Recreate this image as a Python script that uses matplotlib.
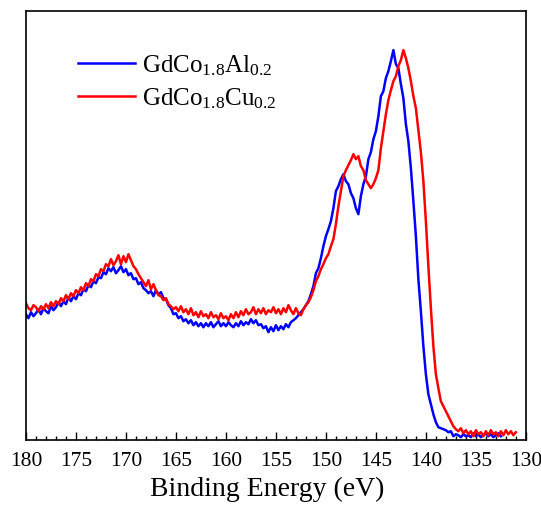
import matplotlib
matplotlib.use("Agg")
import matplotlib.pyplot as plt
from matplotlib.ticker import MultipleLocator
import numpy as np

plt.rcParams['font.family'] = ['Liberation Serif', 'DejaVu Serif']
plt.rcParams['mathtext.default'] = 'regular'

# intensity (arb. units), 0.25 eV step starting at 180 eV
# one row per eV: x.00, x-0.25, x-0.5, x-0.75
gdco_al = [
    122, 118, 124, 120,  123, 127, 122, 128,  125, 123, 130, 126,  # 180-177.25
    129, 134, 130, 135,  132, 139, 135, 140,  137, 143, 141, 147,  # 177-174.25
    145, 151, 149, 155,  153, 159, 158, 164,  162, 168, 165, 169,  # 174-171.25
    163, 166, 170, 164,  167, 161, 163, 157,  158, 152, 154, 148,  # 171-168.25
    146, 143, 145, 140,  146, 142, 144, 138,  137, 131, 128, 122,  # 168-165.25
    123, 118, 120, 115,  117, 113, 116, 111,  114, 110, 113, 109,  # 165-162.25
    113, 110, 114, 109,  112, 115, 110, 113,  110, 114, 111, 109,  # 162-159.25
    113, 110, 115, 111,  114, 112, 117, 113,  116, 111, 112, 108,  # 159-156.25
    110, 104, 109, 105,  111, 106, 110, 107,  112, 109, 114, 116,  # 156-153.25
    118, 121, 124, 127,  131, 135, 142, 150,  163, 168, 178, 190,  # 153-150.25
    200, 207, 215, 228,  245, 250, 257, 262,  255, 252, 243, 238,  # 150-147.25
    228, 222, 240, 252,  260, 277, 284, 297,  305, 320, 340, 345,  # 147-144.25
    358, 365, 375, 386,  372, 368, 352, 338,  312, 295, 268, 235,  # 144-141.25
    200, 157, 125, 90,   62, 42, 32, 22,      14, 9, 8, 7,          # 141-138.25
    6, 4, 5, 0,          2, 1, -1, 2,         0, 1, -1, 3,          # 138-135.25
    0, 2, -1, 1,         3, 0, 2, -1,         1, 3, 0,              # 135-132.5
]

gdco_cu = [
    133, 128, 126, 131,  129, 125, 130, 127,  132, 128, 134, 130,  # 180-177.25
    135, 132, 138, 135,  141, 137, 143, 140,  146, 143, 149, 146,  # 177-174.25
    153, 150, 157, 155,  162, 160, 167, 165,  172, 170, 177, 171,  # 174-171.25
    175, 181, 172, 180,  174, 182, 176, 170,  167, 162, 158, 154,  # 171-168.25
    150, 156, 147, 152,  146, 141, 140, 136,  138, 132, 130, 127,  # 168-165.25
    129, 125, 130, 124,  127, 122, 128, 121,  124, 119, 125, 120,  # 165-162.25
    122, 118, 124, 119,  121, 117, 123, 118,  120, 116, 122, 118,  # 162-159.25
    124, 119, 125, 121,  127, 122, 124, 129,  122, 127, 123, 128,  # 159-156.25
    122, 126, 124, 129,  123, 127, 122, 128,  124, 131, 126, 122,  # 156-153.25
    128, 123, 121, 127,  131, 134, 139, 146,  155, 160, 167, 172,  # 153-150.25
    178, 182, 190, 197,  212, 230, 245, 260,  266, 271, 276, 282,  # 150-147.25
    277, 280, 270, 266,  256, 252, 248, 252,  258, 266, 288, 305,  # 147-144.25
    322, 336, 346, 355,  360, 370, 376, 386,  378, 368, 355, 340,  # 144-141.25
    328, 306, 284, 255,  215, 170, 128, 90,   62, 48, 35, 30,      # 141-138.25
    25, 20, 15, 10,      7, 5, 8, 3,          6, 2, 5, 0,          # 138-135.25
    6, 2, 4, 0,          5, 1, 6, 2,          4, 0, 5, 1,          # 135-132.25
    6, 2, 5, 1,          4,                                        # 132-131
]

energy_al = 180 - 0.25 * np.arange(len(gdco_al))
energy_cu = 180 - 0.25 * np.arange(len(gdco_cu))

labels = [r'GdCo$_{1.8}$Al$_{0.2}$', r'GdCo$_{1.8}$Cu$_{0.2}$']

fig = plt.figure(figsize=(5.41, 5.06), dpi=100)
ax = fig.add_axes([0.048, 0.128, 0.924, 0.848])

ax.plot(energy_al, gdco_al, color='#0000ff', lw=1.8, label=labels[0])
ax.plot(energy_cu, gdco_cu, color='#ff0000', lw=1.8, label=labels[1])

ax.set_xlim(180, 130)
ax.set_ylim(-4, 425)
ax.set_yticks([])
ax.xaxis.set_major_locator(MultipleLocator(5))
ax.xaxis.set_minor_locator(MultipleLocator(1))
ax.tick_params(axis='x', which='major', direction='in', length=6, width=1, labelsize=15.5, pad=8)
ax.tick_params(axis='x', which='minor', direction='in', length=3, width=1)
for s in ax.spines.values():
    s.set_linewidth(1.2)

ax.set_xlabel('Binding Energy (eV)', fontsize=20)
ax.xaxis.set_label_coords(0.482, -0.084)

ax.legend(loc='upper left', bbox_to_anchor=(0.084, 0.927), frameon=False, fontsize=18,
          handlelength=2.3, handletextpad=0.28, labelspacing=0.33, borderaxespad=0)

fig.savefig('out.png', dpi=100)
